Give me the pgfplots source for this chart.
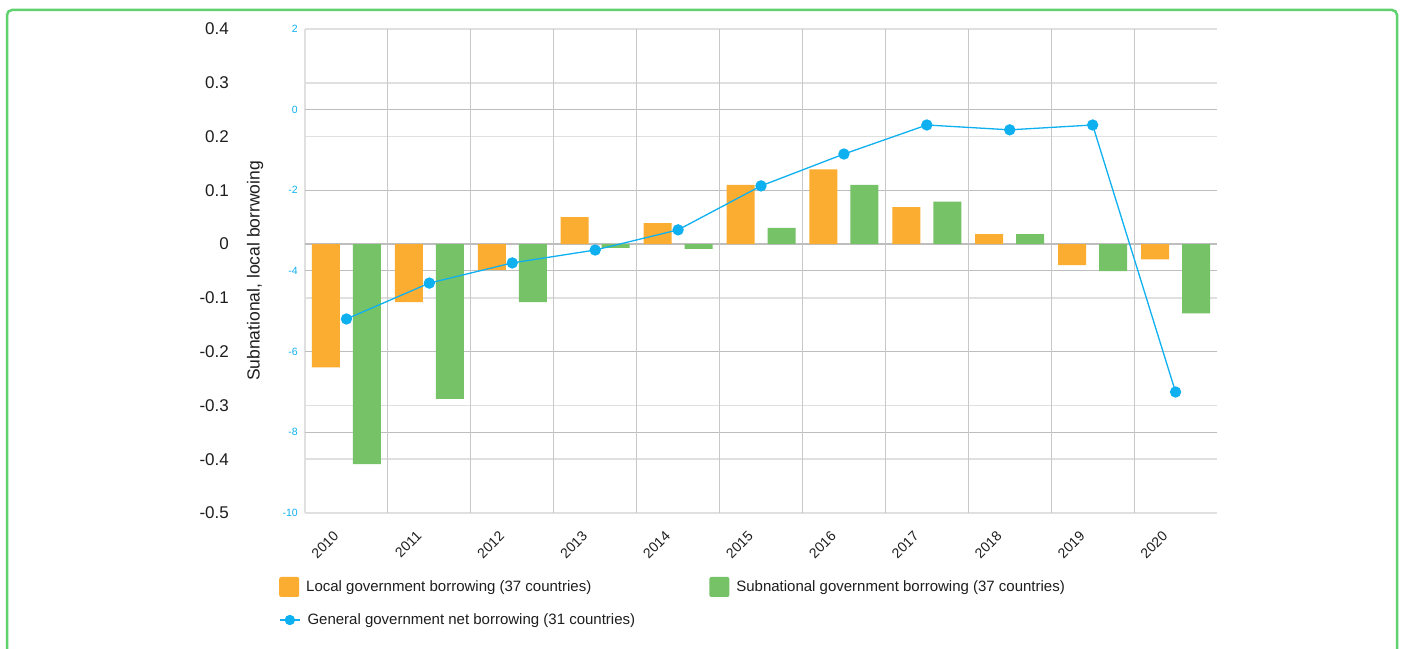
\documentclass[border=0pt]{standalone}
\usepackage{fontspec}
\setmainfont{Liberation Sans}
\usepackage{pgfplots}
\pgfplotsset{compat=1.18}
\definecolor{orangeb}{RGB}{251,173,50}
\definecolor{greenb}{RGB}{118,194,103}
\definecolor{cyanl}{RGB}{14,176,240}
\definecolor{framec}{RGB}{95,210,110}
\definecolor{gridlight}{RGB}{224,224,224}
\definecolor{griddark}{RGB}{190,190,190}
\definecolor{vgrid}{RGB}{200,200,200}
\definecolor{txt}{RGB}{30,30,30}
\pgfplotsset{base/.style={scale only axis, width=912pt, height=484pt,
  at={(305pt,135pt)}, anchor=south west, xmin=-0.5, xmax=10.5,
  /pgf/number format/assume math mode=true,
  major tick length=0pt, minor tick length=0pt}}
\begin{document}
\begin{tikzpicture}[x=1pt,y=1pt]
\useasboundingbox (0,0) rectangle (1405,648);
\fill[white] (0,0) rectangle (1405,648);
\draw[framec, line width=2.5pt, rounded corners=5pt] (7,-20) rectangle (1397,638);

% light grid, left labels, y label
\begin{axis}[base, ymin=-0.5, ymax=0.4,
  ytick={-0.5,-0.4,-0.3,-0.2,-0.1,0,0.1,0.2,0.3,0.4},
  yticklabels={-0.5,-0.4,-0.3,-0.2,-0.1,0,0.1,0.2,0.3,0.4},
  ymajorgrids, major grid style={gridlight, line width=1.5pt},
  xtick=\empty, axis x line*=bottom, axis y line*=left,
  axis line style={gridlight, line width=1.5pt},
  yticklabel style={font=\fontsize{17}{20}\selectfont, text=txt, inner sep=0pt, anchor=east, xshift=-76pt},
  ylabel={Subnational, local borrwoing},
  every axis y label/.style={at={(axis description cs:-0.0548,0.5)}, rotate=90, anchor=center, font=\fontsize{17.5}{20}\selectfont, text=txt}]
\addplot[draw=none, forget plot] coordinates {(0,0)};
\end{axis}

% dark grid and cyan labels
\begin{axis}[base, ymin=-10, ymax=2,
  ytick={-10,-8,-6,-4,-2,0,2}, yticklabels={-10,-8,-6,-4,-2,0,2},
  extra y ticks={-8,-6,-4,-2,0}, extra y tick labels={},
  extra y tick style={ymajorgrids=true, major grid style={griddark, line width=1pt}},
  xtick=\empty, axis line style={draw=none},
  yticklabel style={font=\fontsize{10.5}{12}\selectfont, text=cyanl, inner sep=0pt, anchor=east, xshift=-7pt}]
\addplot[draw=none, forget plot] coordinates {(0,0)};
\end{axis}

% bars
\begin{axis}[base, ymin=-0.5, ymax=0.4,
  extra y ticks={0}, extra y tick labels={},
  extra y tick style={ymajorgrids=true, major grid style={griddark, line width=1.3pt}},
  ytick=\empty, axis line style={draw=none},
  xtick={0,1,2,3,4,5,6,7,8,9,10},
  xticklabels={2010,2011,2012,2013,2014,2015,2016,2017,2018,2019,2020},
  minor xtick={0.5,1.5,2.5,3.5,4.5,5.5,6.5,7.5,8.5,9.5},
  xminorgrids, minor grid style={vgrid, line width=1pt},
  xticklabel style={font=\fontsize{14}{16}\selectfont, text=txt, inner sep=0pt, anchor=north east, xshift=-14pt, yshift=-17pt, rotate=45},
  ybar, bar width=28pt,
  legend columns=2,
  legend style={at={(axis description cs:-0.0285,-0.1529)}, anchor=west, draw=none, fill=none, inner sep=0pt,
    font=\fontsize{15}{18}\selectfont, text=txt, nodes={inner sep=0pt}, column sep=7pt,
    /tikz/every even column/.append style={column sep=118pt}}]
\addplot[fill=orangeb, draw=none, bar shift=-20.5pt,
  legend image code/.code={\fill[orangeb, rounded corners=2pt] (0pt,-10pt) rectangle (20pt,10pt);}]
  coordinates {(0,-0.229) (1,-0.108) (2,-0.048) (3,0.050) (4,0.039) (5,0.110) (6,0.139) (7,0.069) (8,0.0186) (9,-0.039) (10,-0.0285)};
\addlegendentry{Local government borrowing (37 countries)}
\addplot[fill=greenb, draw=none, bar shift=20.5pt,
  legend image code/.code={\fill[greenb, rounded corners=2pt] (0pt,-10pt) rectangle (20pt,10pt);}]
  coordinates {(0,-0.409) (1,-0.288) (2,-0.108) (3,-0.007) (4,-0.009) (5,0.030) (6,0.110) (7,0.079) (8,0.0186) (9,-0.050) (10,-0.129)};
\addlegendentry{Subnational government borrowing (37 countries)}
\end{axis}

% line
\begin{axis}[base, ymin=-10, ymax=2, hide axis,
  legend style={at={(axis description cs:-0.0285,-0.2211)}, anchor=west, draw=none, fill=none, inner sep=0pt,
    font=\fontsize{15}{18}\selectfont, text=txt, nodes={inner sep=0pt}, column sep=7pt}]
\addplot[cyanl, line width=1.3pt, mark=*, mark size=5pt, mark options={fill=cyanl, draw=none},
  legend image code/.code={\draw[cyanl, line width=1.3pt] (0pt,0pt) -- (20pt,0pt); \fill[cyanl] (10pt,0pt) circle (4.5pt);}]
  coordinates {(0,-5.19) (1,-4.30) (2,-3.80) (3,-3.48) (4,-2.98) (5,-1.89) (6,-1.10) (7,-0.38) (8,-0.50) (9,-0.38) (10,-7.0)};
\addlegendentry{General government net borrowing (31 countries)}
\end{axis}
\end{tikzpicture}
\end{document}
